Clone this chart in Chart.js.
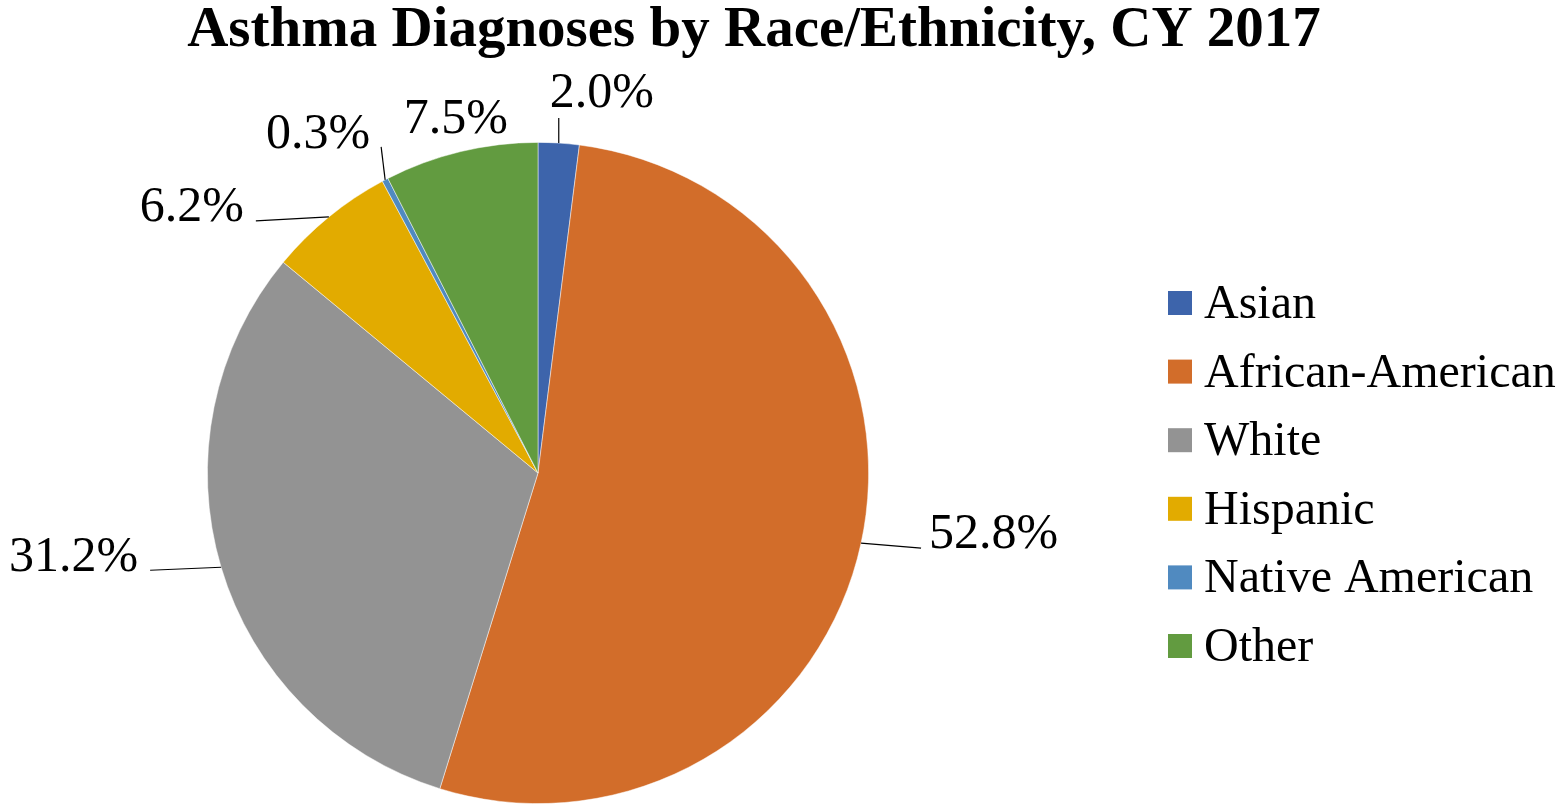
<!DOCTYPE html>
<html>
<head>
<meta charset="utf-8">
<title>Asthma Diagnoses by Race/Ethnicity, CY 2017</title>
<script src="https://cdn.jsdelivr.net/npm/chart.js@4.4.1/dist/chart.umd.min.js"></script>
<style>
  html, body { margin: 0; padding: 0; background: #fff; }
  canvas { display: block; }
</style>
</head>
<body>
<canvas id="pieChart" width="1556" height="806"></canvas>
<script>
// Datos
const categories = ['Asian', 'African-American', 'White', 'Hispanic', 'Native American', 'Other'];
const shares = [2.0, 52.8, 31.2, 6.2, 0.3, 7.5];
const sliceColors = ['#3D64AB', '#D26D2A', '#939393', '#E2AB00', '#508AC0', '#629B40'];
const chartTitle = 'Asthma Diagnoses by Race/Ethnicity, CY 2017';

// Posición de etiquetas respecto al borde del sector (dx, dy, alineación, fin de la línea guía)
const labelLayout = [
  { dx: -9, dy: -36, align: 'left', line: [0, -25] },
  { dx: 68, dy: 5, align: 'left', line: [60, 5] },
  { dx: -83, dy: 4, align: 'right', line: [-71, 3] },
  { dx: -85, dy: 4, align: 'right', line: [-73, 4] },
  { dx: -15, dy: -32, align: 'right', line: [-4, -33] },
  { dx: -5, dy: -19, align: 'center', line: null },
];

const serif = '"Liberation Serif", "Times New Roman", serif';

const decorPlugin = {
  id: 'decor',
  afterDraw(chart) {
    const { ctx } = chart;
    ctx.save();

    // Título
    ctx.fillStyle = '#000';
    ctx.font = 'bold 57px ' + serif;
    ctx.textAlign = 'center';
    ctx.textBaseline = 'alphabetic';
    ctx.fillText(chartTitle, 754, 46);

    // Etiquetas con líneas guía
    const arcs = chart.getDatasetMeta(0).data;
    ctx.font = '50px ' + serif;
    arcs.forEach((arc, i) => {
      const mid = (arc.startAngle + arc.endAngle) / 2;
      const ex = arc.x + Math.cos(mid) * arc.outerRadius;
      const ey = arc.y + Math.sin(mid) * arc.outerRadius;
      const lay = labelLayout[i];
      if (lay.line) {
        ctx.strokeStyle = '#000';
        ctx.lineWidth = 1.2;
        ctx.beginPath();
        ctx.moveTo(ex, ey);
        ctx.lineTo(ex + lay.line[0], ey + lay.line[1]);
        ctx.stroke();
      }
      ctx.textAlign = lay.align;
      ctx.fillText(shares[i].toFixed(1) + '%', ex + lay.dx, ey + lay.dy);
    });

    // Leyenda
    ctx.font = '48px ' + serif;
    ctx.textAlign = 'left';
    categories.forEach((name, i) => {
      const top = 291 + i * 68.6;
      ctx.fillStyle = sliceColors[i];
      ctx.fillRect(1168, top, 24, 24);
      ctx.fillStyle = '#000';
      ctx.fillText(name, 1204, top + 27);
    });

    ctx.restore();
  },
};

new Chart(document.getElementById('pieChart'), {
  type: 'pie',
  data: {
    labels: categories,
    datasets: [{
      data: shares,
      backgroundColor: sliceColors,
      borderColor: 'rgba(255,255,255,0.6)',
      borderWidth: 0.8,
    }],
  },
  options: {
    responsive: false,
    animation: false,
    layout: { padding: { left: 207, right: 687, top: 142, bottom: 2 } },
    plugins: {
      legend: { display: false },
      tooltip: { enabled: false },
      title: { display: false },
    },
  },
  plugins: [decorPlugin],
});
</script>
</body>
</html>
